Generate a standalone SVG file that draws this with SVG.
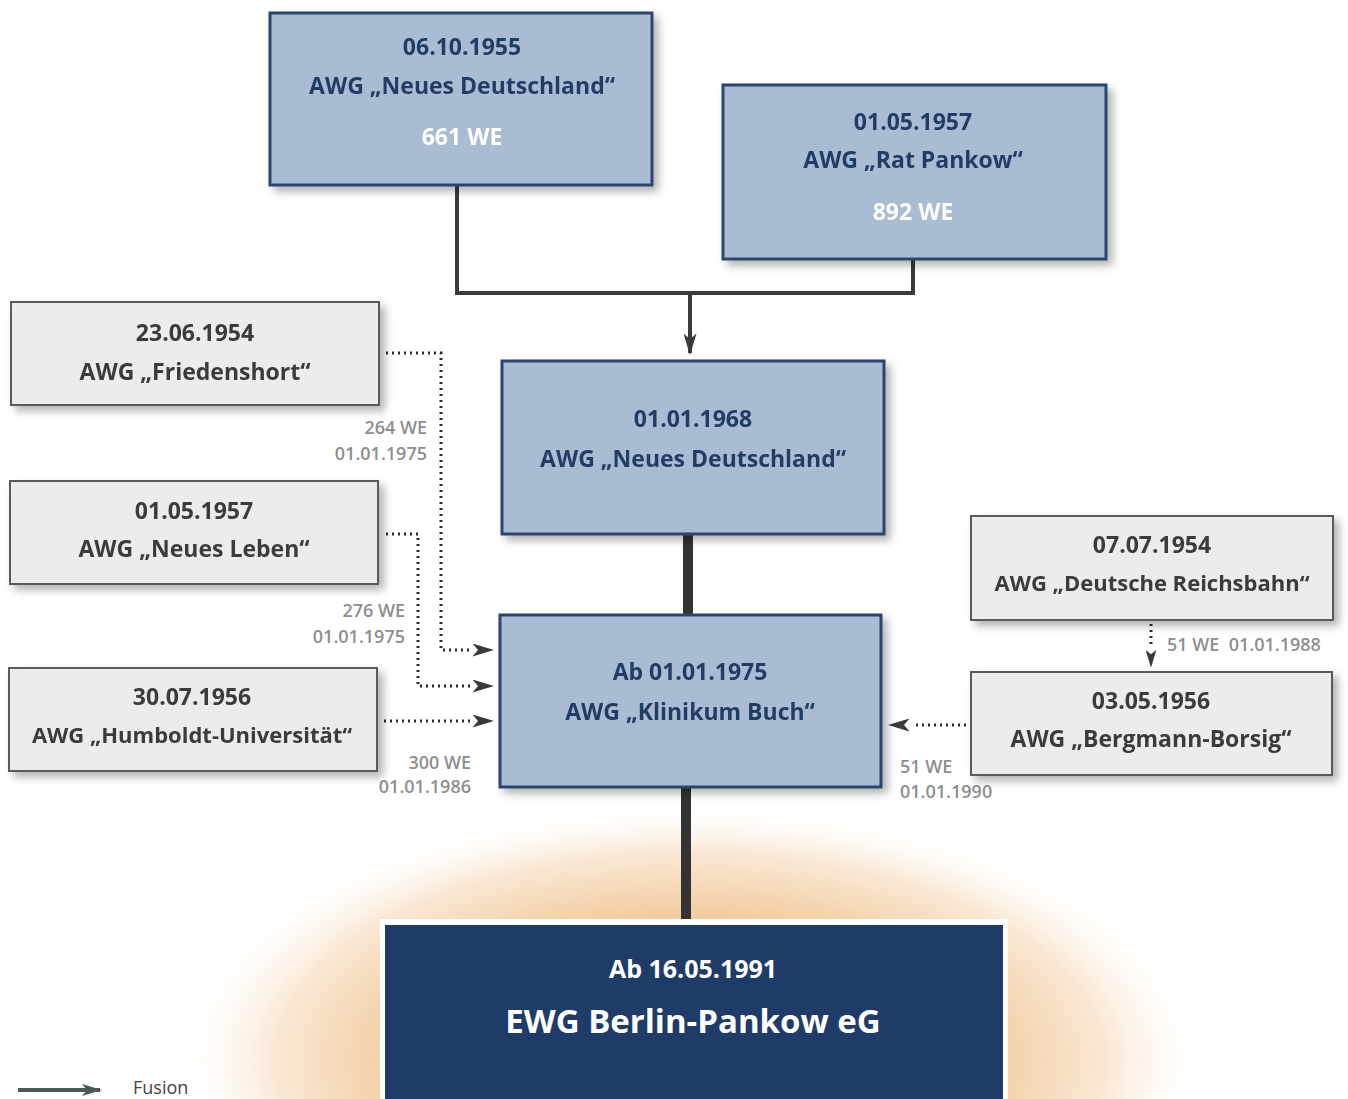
<svg xmlns="http://www.w3.org/2000/svg" width="1348" height="1099" viewBox="0 0 1348 1099">
<defs>
<radialGradient id="glow" cx="690" cy="1060" r="520" gradientUnits="userSpaceOnUse" gradientTransform="translate(690 1060) scale(1 0.5) translate(-690 -1060)">
<stop offset="0" stop-color="#e8a25a"/>
<stop offset="0.5" stop-color="#f1c695"/>
<stop offset="0.8" stop-color="#fae8d4"/>
<stop offset="1" stop-color="#ffffff" stop-opacity="0"/>
</radialGradient>
<filter id="sh" x="-10%" y="-10%" width="130%" height="140%">
<feDropShadow dx="5" dy="5" stdDeviation="4" flood-color="#000" flood-opacity="0.3"/>
</filter>
<marker id="ah" viewBox="0 0 20 12" refX="18" refY="6" markerWidth="22" markerHeight="13" markerUnits="userSpaceOnUse" orient="auto">
<path d="M0,0 L20,6 L0,12 L5,6 Z" fill="#3a3a3a"/>
</marker>
<marker id="ahs" viewBox="0 0 20 12" refX="18" refY="6" markerWidth="18" markerHeight="11" markerUnits="userSpaceOnUse" orient="auto">
<path d="M0,0 L20,6 L0,12 L5,6 Z" fill="#3a3a3a"/>
</marker>
<marker id="ahl" viewBox="0 0 20 12" refX="18" refY="6" markerWidth="26" markerHeight="12" markerUnits="userSpaceOnUse" orient="auto">
<path d="M0,0 L20,6 L0,12 L5,6 Z" fill="#4a5a55"/>
</marker>
</defs>
<style>
text{font-family:"Open Sans","Noto Sans","Liberation Sans",sans-serif;font-weight:700;text-anchor:middle}
.blue rect{fill:#a9bcd3;stroke:#2b4570;stroke-width:3}
.gray rect{fill:#ececec;stroke:#5a5a5a;stroke-width:2}
.bt{fill:#243d63;font-size:23px}
.wt{fill:#ffffff;font-size:23px}
.gt{fill:#3a3a3a;font-size:23px}
.lab{fill:#8e8e8e;font-size:18px;font-weight:600}
.solid{fill:none;stroke:#3a3a3a;stroke-width:4}
.thick{fill:none;stroke:#333;stroke-width:10}
.dot{fill:none;stroke:#2a2a2a;stroke-width:3;stroke-dasharray:2 4}
</style>
<rect x="0" y="0" width="1348" height="1099" fill="#ffffff"/>
<ellipse cx="690" cy="1060" rx="520" ry="260" fill="url(#glow)"/>

<g id="connectors">
<path class="solid" d="M457,185 V293 H913 V259"/>
<path class="solid" d="M690,293 V353" marker-end="url(#ah)"/>
<path class="thick" d="M688,534 V614"/>
<path class="thick" d="M686,787 V920"/>
<path class="dot" d="M386,353 H441 V650 H470"/>
<path d="M470,650 H492" stroke="none" fill="none" marker-end="url(#ah)"/>
<path class="dot" d="M386,534 H418 V686 H470"/>
<path d="M470,686 H492" stroke="none" fill="none" marker-end="url(#ah)"/>
<path class="dot" d="M384,721 H470"/>
<path d="M470,721 H492" stroke="none" fill="none" marker-end="url(#ah)"/>
<path class="dot" d="M966,725 H912"/>
<path d="M912,725 H890" stroke="none" fill="none" marker-end="url(#ah)"/>
<path class="dot" d="M1151,624 V648"/>
<path d="M1151,648 V666" stroke="none" fill="none" marker-end="url(#ahs)"/>
</g>

<g id="nodeA" class="blue" filter="url(#sh)">
<rect x="270" y="13" width="382" height="172"/>
<text class="bt" x="462" y="55">06.10.1955</text>
<text class="bt" x="462" y="94">AWG „Neues Deutschland“</text>
<text class="wt" x="462" y="145">661 WE</text>
</g>
<g id="nodeB" class="blue" filter="url(#sh)">
<rect x="723" y="85" width="383" height="174"/>
<text class="bt" x="913" y="130">01.05.1957</text>
<text class="bt" x="913" y="168">AWG „Rat Pankow“</text>
<text class="wt" x="913" y="220">892 WE</text>
</g>
<g id="nodeC" class="blue" filter="url(#sh)">
<rect x="502" y="361" width="382" height="173"/>
<text class="bt" x="693" y="427">01.01.1968</text>
<text class="bt" x="693" y="467">AWG „Neues Deutschland“</text>
</g>
<g id="nodeD" class="blue" filter="url(#sh)">
<rect x="500" y="615" width="381" height="172"/>
<text class="bt" x="690" y="680">Ab 01.01.1975</text>
<text class="bt" x="690" y="720">AWG „Klinikum Buch“</text>
</g>
<g id="nodeE">
<rect x="380" y="919" width="628" height="182" fill="#ffffff"/>
<rect x="385" y="925" width="618" height="176" fill="#1f3b68"/>
<text x="693" y="978" fill="#ffffff" font-size="25">Ab 16.05.1991</text>
<text x="693" y="1033" fill="#ffffff" font-size="33">EWG Berlin-Pankow eG</text>
</g>

<g id="nodeF1" class="gray" filter="url(#sh)">
<rect x="11" y="302" width="368" height="103"/>
<text class="gt" x="195" y="341">23.06.1954</text>
<text class="gt" x="195" y="380">AWG „Friedenshort“</text>
</g>
<g id="nodeF2" class="gray" filter="url(#sh)">
<rect x="10" y="481" width="368" height="103"/>
<text class="gt" x="194" y="519">01.05.1957</text>
<text class="gt" x="194" y="557">AWG „Neues Leben“</text>
</g>
<g id="nodeF3" class="gray" filter="url(#sh)">
<rect x="9" y="668" width="368" height="103"/>
<text class="gt" x="192" y="705">30.07.1956</text>
<text class="gt" x="192" y="743" style="font-size:22px">AWG „Humboldt-Universität“</text>
</g>
<g id="nodeR1" class="gray" filter="url(#sh)">
<rect x="971" y="516" width="362" height="104"/>
<text class="gt" x="1152" y="553">07.07.1954</text>
<text class="gt" x="1152" y="591" style="font-size:22px">AWG „Deutsche Reichsbahn“</text>
</g>
<g id="nodeR2" class="gray" filter="url(#sh)">
<rect x="971" y="672" width="361" height="103"/>
<text class="gt" x="1151" y="709">03.05.1956</text>
<text class="gt" x="1151" y="747">AWG „Bergmann-Borsig“</text>
</g>

<g id="labels">
<text class="lab" x="427" y="434" style="text-anchor:end">264 WE</text>
<text class="lab" x="427" y="460" style="text-anchor:end">01.01.1975</text>
<text class="lab" x="405" y="617" style="text-anchor:end">276 WE</text>
<text class="lab" x="405" y="643" style="text-anchor:end">01.01.1975</text>
<text class="lab" x="471" y="769" style="text-anchor:end">300 WE</text>
<text class="lab" x="471" y="793" style="text-anchor:end">01.01.1986</text>
<text class="lab" x="900" y="773" style="text-anchor:start">51 WE</text>
<text class="lab" x="900" y="798" style="text-anchor:start">01.01.1990</text>
<text class="lab" x="1167" y="651" style="text-anchor:start" xml:space="preserve">51 WE  01.01.1988</text>
</g>

<g id="legend">
<path d="M18,1090 H100" stroke="#4a5a55" stroke-width="4" marker-end="url(#ahl)"/>
<text x="133" y="1094" fill="#444" style="font-size:18px;font-weight:400;text-anchor:start">Fusion</text>
</g>
</svg>
